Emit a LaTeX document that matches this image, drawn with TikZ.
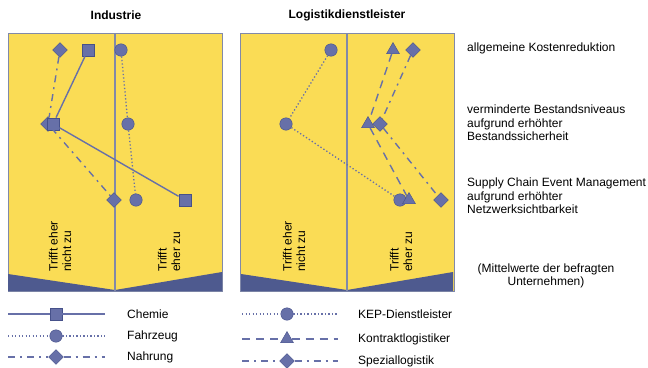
\documentclass[tikz,border=0pt]{standalone}
\usepackage{fontspec}
\setmainfont{Liberation Sans}
\usetikzlibrary{positioning, shapes.geometric}
\definecolor{panelyellow}{HTML}{FADC55}
\definecolor{bandblue}{HTML}{4E5A8F}
\definecolor{markfill}{HTML}{6770A8}
\definecolor{markline}{HTML}{46518A}
\definecolor{axisgray}{HTML}{8189A9}

\begin{document}
\begin{tikzpicture}[-,x=1pt,y=-1pt,font=\fontsize{12}{13.5}\selectfont]
        \tikzstyle{panel}=[draw=axisgray, fill=panelyellow, rectangle, minimum width=214pt, minimum height=258pt, inner sep=0pt, outer sep=0pt]
        \tikzstyle{sq}=[draw=markline, fill=markfill, rectangle, minimum size=12.5pt, inner sep=0pt]
        \tikzstyle{ci}=[draw=markline, fill=markfill, circle, minimum size=12.5pt, inner sep=0pt]
        \tikzstyle{di}=[draw=markline, fill=markfill, diamond, minimum size=15pt, inner sep=0pt]
        \tikzstyle{tri}=[draw=markline, fill=markfill, regular polygon, regular polygon sides=3, minimum size=15pt, inner sep=0pt]
        \tikzstyle{solidline}=[draw=markfill, line width=1.4pt]
        \tikzstyle{dotline}=[draw=markfill, line width=1.3pt, dash pattern=on 1.3pt off 2.2pt]
        \tikzstyle{dashline}=[draw=markfill, line width=1.4pt, dash pattern=on 8pt off 6pt]
        \tikzstyle{dashdotline}=[draw=markfill, line width=1.4pt, dash pattern=on 7pt off 5pt on 2pt off 5pt]
        \tikzstyle{vtext}=[rotate=90, anchor=west, align=left, inner sep=0pt]
        \tikzstyle{label}=[anchor=west, align=left, inner sep=0pt]
        \useasboundingbox (0,0) rectangle (648,367);
        % panels
        \node[panel] (ind) at (115,162) {};
        \node[panel] (log) at (347,162) {};
        \fill[bandblue] (8,274) -- (115,290) -- (222,272) -- (222,291) -- (8,291) -- cycle;
        \fill[bandblue] (241,274) -- (347,290) -- (453,272) -- (453,291) -- (241,291) -- cycle;
        \draw[axisgray, line width=1.5pt] (ind.north) -- (ind.south);
        \draw[axisgray, line width=1.5pt] (log.north) -- (log.south);
        \node[font=\fontsize{12}{13.5}\selectfont\bfseries] (indt) at (116,15) {Industrie};
        \node[font=\fontsize{12}{13.5}\selectfont\bfseries] (logt) at (347,15) {Logistikdienstleister};
        \node[vtext] (ind1) at (60,272) {Trifft eher\\nicht zu};
        \node[vtext] (ind2) at (169,272) {Trifft\\eher zu};
        \node[vtext] (log1) at (294,272) {Trifft eher\\nicht zu};
        \node[vtext] (log2) at (401,272) {Trifft\\eher zu};
        % Industrie
        \node[di] (na1) at (60,50)  {};
        \node[di] (na2) at (48,124) {};
        \node[di] (na3) at (114,200) {};
        \node[sq] (ch1) at (88,50)  {};
        \node[sq] (ch2) at (53,124) {};
        \node[sq] (ch3) at (185,200) {};
        \node[ci] (fz1) at (121,50) {};
        \node[ci] (fz2) at (128,124) {};
        \node[ci] (fz3) at (136,200) {};
        \draw[solidline]   (ch1) -- (ch2) -- (ch3);
        \draw[dotline]     (fz1) -- (fz2) -- (fz3);
        \draw[dashdotline] (na1) -- (na2) -- (na3);
        % Logistikdienstleister
        \node[ci]  (ke1) at (331,50)  {};
        \node[ci]  (ke2) at (286,124) {};
        \node[ci]  (ke3) at (400,200) {};
        \node[tri] (ko1) at (393,50)  {};
        \node[tri] (ko2) at (368,124) {};
        \node[tri] (ko3) at (409,200) {};
        \node[di]  (sp1) at (413,50)  {};
        \node[di]  (sp2) at (380,124) {};
        \node[di]  (sp3) at (441,200) {};
        \draw[dotline]     (ke1) -- (ke2) -- (ke3);
        \draw[dashline]    (ko1) -- (ko2) -- (ko3);
        \draw[dashdotline] (sp1) -- (sp2) -- (sp3);
        % criteria
        \node[label] (k1) at (467,48)  {allgemeine Kostenreduktion};
        \node[label] (k2) at (467,123) {verminderte Bestandsniveaus\\aufgrund erhöhter\\Bestandssicherheit};
        \node[label] (k3) at (467,196) {Supply Chain Event Management\\aufgrund erhöhter\\Netzwerksichtbarkeit};
        \node[align=center, inner sep=0pt] (mw) at (546,276) {(Mittelwerte der befragten\\Unternehmen)};
        % legend
        \coordinate (l1a) at (8,314);   \coordinate (l1b) at (105,314);
        \coordinate (l2a) at (8,336);   \coordinate (l2b) at (105,336);
        \coordinate (l3a) at (8,357);   \coordinate (l3b) at (105,357);
        \node[sq] (l1m) at (56,314) {};
        \node[ci] (l2m) at (56,336) {};
        \node[di] (l3m) at (56,357) {};
        \draw[solidline]   (l1a) -- (l1m) -- (l1b);
        \draw[dotline]     (l2a) -- (l2m) -- (l2b);
        \draw[dashdotline] (l3a) -- (l3m) -- (l3b);
        \node[label, right=22pt of l1b] (l1t) {Chemie};
        \node[label, right=22pt of l2b] (l2t) {Fahrzeug};
        \node[label, right=22pt of l3b] (l3t) {Nahrung};
        \coordinate (r1a) at (242,314); \coordinate (r1b) at (338,314);
        \coordinate (r2a) at (242,339); \coordinate (r2b) at (338,339);
        \coordinate (r3a) at (242,361); \coordinate (r3b) at (338,361);
        \node[ci]  (r1m) at (287,314) {};
        \node[tri] (r2m) at (287,339) {};
        \node[di]  (r3m) at (287,361) {};
        \draw[dotline]     (r1a) -- (r1m) -- (r1b);
        \draw[dashline]    (r2a) -- (r2m) -- (r2b);
        \draw[dashdotline] (r3a) -- (r3m) -- (r3b);
        \node[label, right=20pt of r1b] (r1t) {KEP-Dienstleister};
        \node[label, right=20pt of r2b] (r2t) {Kontraktlogistiker};
        \node[label, right=20pt of r3b] (r3t) {Speziallogistik};
\end{tikzpicture}
\end{document}
